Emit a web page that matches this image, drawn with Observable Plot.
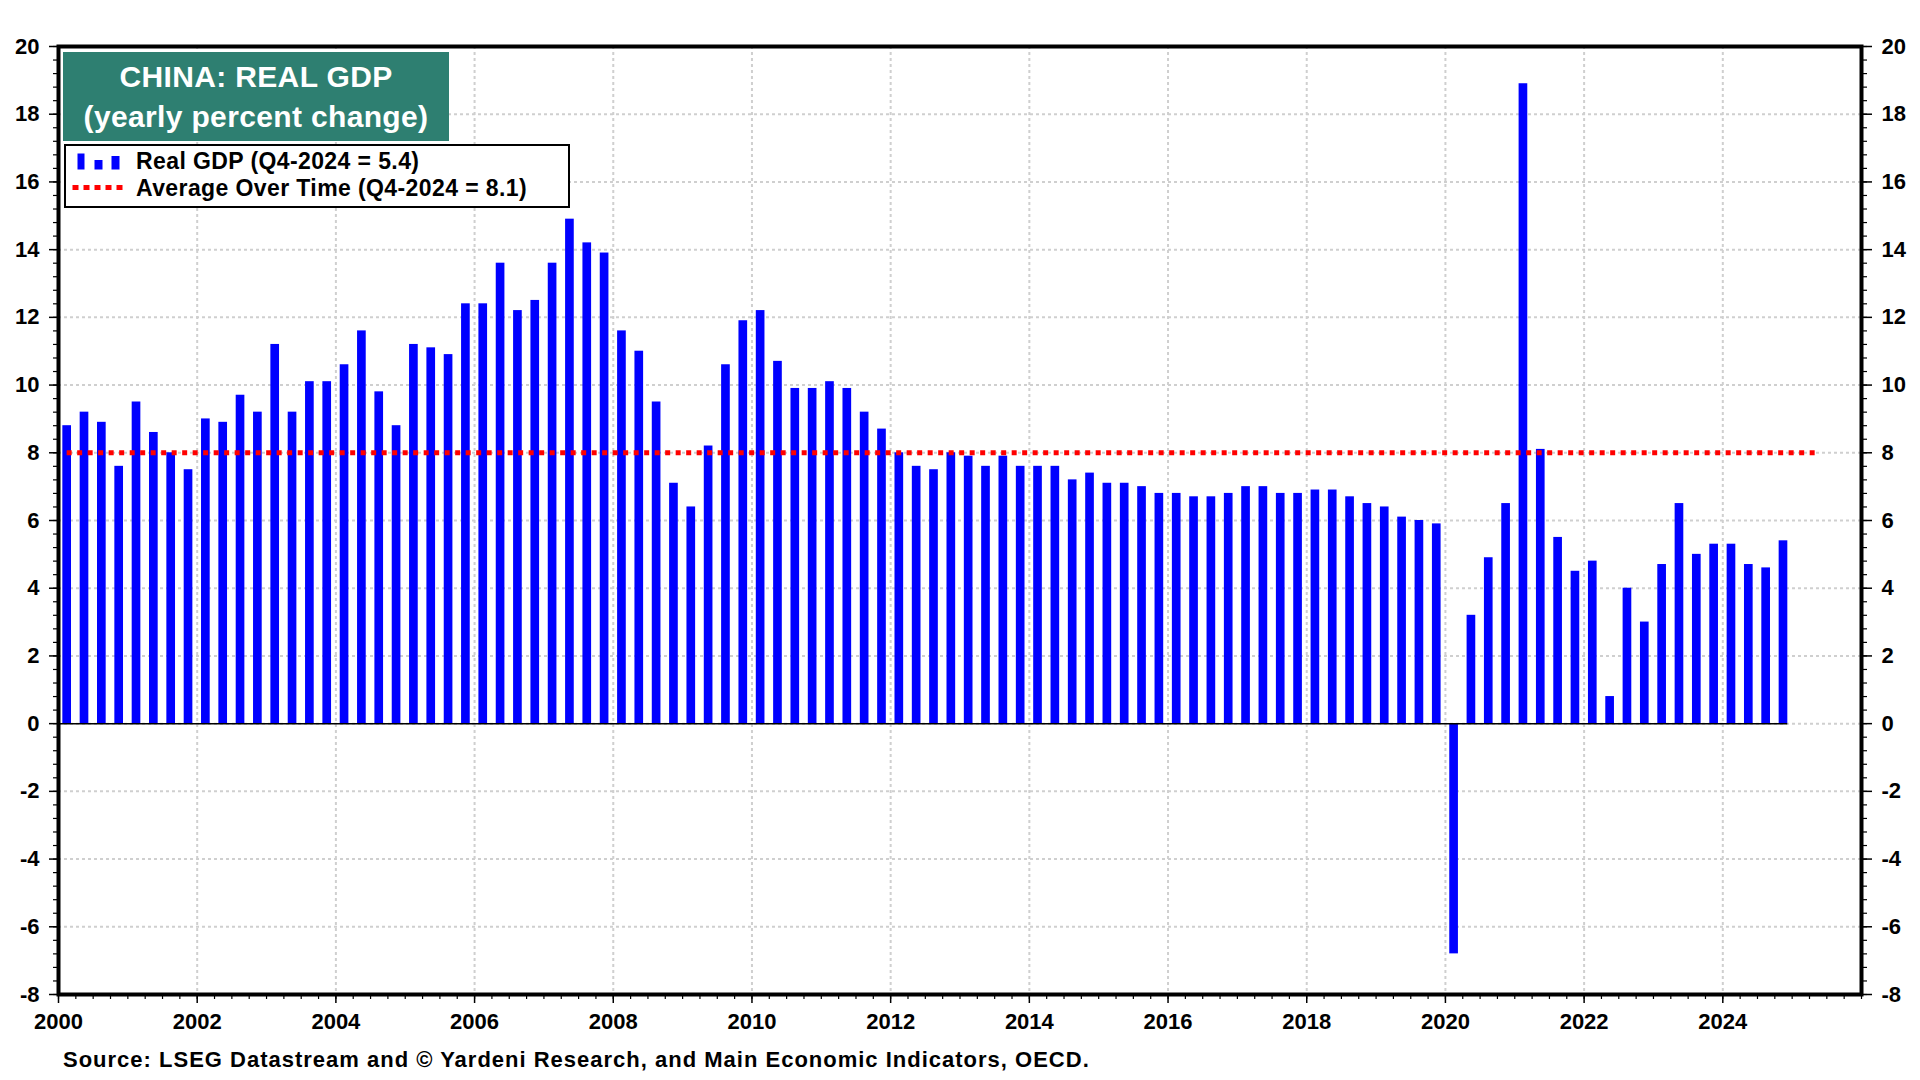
<!DOCTYPE html>
<html>
<head>
<meta charset="utf-8">
<script src="https://cdn.jsdelivr.net/npm/d3@7"></script>
<script src="https://cdn.jsdelivr.net/npm/@observablehq/plot@0.6"></script>
<style>
  html, body { margin: 0; padding: 0; background: #fff; }
  #wrap { position: relative; width: 1920px; height: 1080px; overflow: hidden;
          font-family: "Liberation Sans", Arial, Helvetica, sans-serif; font-weight: bold; color: #000; }
  #chart { position: absolute; left: 0; top: 0; }
  #title { position: absolute; left: 63px; top: 52px; width: 386px; height: 89px;
           background: #2e7f71; color: #fff; font-size: 30px; line-height: 40px; text-align: center;
           letter-spacing: 0.35px;
           display: flex; flex-direction: column; justify-content: center; }
  #legend { position: absolute; left: 64px; top: 144px; width: 502px; height: 60px;
            border: 2.5px solid #000; background: #fff; font-size: 23px; letter-spacing: 0.4px; }
  #legend svg { position: absolute; left: 0; top: 0; }
  #legend .row { position: absolute; left: 70px; height: 26px; line-height: 26px; white-space: nowrap; }
  #caption { position: absolute; left: 63px; top: 1047px; font-size: 22px; line-height: 26px;
             letter-spacing: 1px; white-space: nowrap; }
</style>
</head>
<body>
<div id="wrap">
  <div id="chart"></div>
  <div id="title"><div id="t1"></div><div id="t2"></div></div>
  <div id="legend">
    <svg width="502" height="60">
      <rect x="11.5" y="7.5" width="7" height="16" fill="#0000ff"></rect>
      <rect x="28.5" y="14" width="8" height="9.5" fill="#0000ff"></rect>
      <rect x="45.5" y="10" width="8" height="13.5" fill="#0000ff"></rect>
      <line x1="6.5" x2="60" y1="41.5" y2="41.5" stroke="#ff0000" stroke-width="5" stroke-dasharray="6,5"></line>
    </svg>
    <div class="row" id="leg1" style="top:2px"></div>
    <div class="row" id="leg2" style="top:28.5px"></div>
  </div>
  <div id="caption"></div>
</div>
<script>
// ---- Data ----
const years = [2000, 2001, 2002, 2003, 2004, 2005, 2006, 2007, 2008, 2009,
               2010, 2011, 2012, 2013, 2014, 2015, 2016, 2017, 2018, 2019,
               2020, 2021, 2022, 2023, 2024];
const quarters = ["Q1", "Q2", "Q3", "Q4"];
// Real GDP, yearly percent change, quarterly (Q1..Q4 for each year)
const realGdp = [
   8.8,  9.2,  8.9,  7.6,   // 2000
   9.5,  8.6,  8.0,  7.5,   // 2001
   9.0,  8.9,  9.7,  9.2,   // 2002
  11.2,  9.2, 10.1, 10.1,   // 2003
  10.6, 11.6,  9.8,  8.8,   // 2004
  11.2, 11.1, 10.9, 12.4,   // 2005
  12.4, 13.6, 12.2, 12.5,   // 2006
  13.6, 14.9, 14.2, 13.9,   // 2007
  11.6, 11.0,  9.5,  7.1,   // 2008
   6.4,  8.2, 10.6, 11.9,   // 2009
  12.2, 10.7,  9.9,  9.9,   // 2010
  10.1,  9.9,  9.2,  8.7,   // 2011
   8.0,  7.6,  7.5,  8.0,   // 2012
   7.9,  7.6,  7.9,  7.6,   // 2013
   7.6,  7.6,  7.2,  7.4,   // 2014
   7.1,  7.1,  7.0,  6.8,   // 2015
   6.8,  6.7,  6.7,  6.8,   // 2016
   7.0,  7.0,  6.8,  6.8,   // 2017
   6.9,  6.9,  6.7,  6.5,   // 2018
   6.4,  6.1,  6.0,  5.9,   // 2019
  -6.8,  3.2,  4.9,  6.5,   // 2020
  18.9,  8.1,  5.5,  4.5,   // 2021
   4.8,  0.8,  4.0,  3.0,   // 2022
   4.7,  6.5,  5.0,  5.3,   // 2023
   5.3,  4.7,  4.6,  5.4    // 2024
];
const averageLevel = 8.0;                 // drawn level of "Average Over Time"
const averageSpan = [[2000, "Q1"], [2025, "Q2"]];
const yMajorTicks = [-8, -6, -4, -2, 0, 2, 4, 6, 8, 10, 12, 14, 16, 18, 20];
const yGridTicks = [-6, -4, -2, 0, 2, 4, 6, 8, 10, 12, 14, 16, 18];
const xLabelTicks = [2000, 2002, 2004, 2006, 2008, 2010, 2012, 2014, 2016, 2018, 2020, 2022, 2024];
const xGridTicks = [2002, 2004, 2006, 2008, 2010, 2012, 2014, 2016, 2018, 2020, 2022, 2024];
const titleLines = ["CHINA: REAL GDP", "(yearly percent change)"];
const legendLabels = ["Real GDP (Q4-2024 = 5.4)", "Average Over Time (Q4-2024 = 8.1)"];
const sourceText = "Source: LSEG Datastream and © Yardeni Research, and Main Economic Indicators, OECD.";

// ---- Build table ----
const qMid = (year, q) => year + quarters.indexOf(q) * 0.25 + 0.125;
const table = realGdp.map((v, i) => ({
  year: years[Math.floor(i / 4)], q: quarters[i % 4],
  t: qMid(years[Math.floor(i / 4)], quarters[i % 4]), value: v
}));
const halfBar = 0.0625;
const lastT = table[table.length - 1].t;
const avgRow = [{level: averageLevel,
                 from: qMid(averageSpan[0][0], averageSpan[0][1]),
                 to: qMid(averageSpan[1][0], averageSpan[1][1])}];
const yMinor = d3.range(-8, 20.001, 0.4).map(d => +d.toFixed(1));
const xMinor = d3.range(2000, 2026.001, 0.25);

document.getElementById("t1").textContent = titleLines[0];
document.getElementById("t2").textContent = titleLines[1];
document.getElementById("leg1").textContent = legendLabels[0];
document.getElementById("leg2").textContent = legendLabels[1];
document.getElementById("caption").textContent = sourceText;

const gridStyle = {stroke: "#cfcfcf", strokeOpacity: 1, strokeWidth: 2, strokeDasharray: "3,3"};

const chart = Plot.plot({
  width: 1920,
  height: 1040,
  marginLeft: 58,
  marginRight: 59,
  marginTop: 46,
  marginBottom: 46,
  x: {type: "linear", domain: [2000, 2026], axis: null},
  y: {type: "linear", domain: [-8, 20], axis: null},
  style: {fontFamily: '"Liberation Sans", Arial, Helvetica, sans-serif', fontSize: "22px",
          fontWeight: "bold", color: "#000", background: "transparent", overflow: "visible"},
  marks: [
    Plot.gridY(yGridTicks, gridStyle),
    Plot.gridX(xGridTicks, gridStyle),
    Plot.rectY(table, {x1: d => d.t - halfBar, x2: d => d.t + halfBar, y: "value", fill: "#0000ff"}),
    Plot.ruleY([0], {x1: () => 2000, x2: () => lastT + halfBar, stroke: "#000", strokeWidth: 1.5}),
    Plot.ruleY(avgRow, {y: "level", x1: "from", x2: "to", stroke: "#ff0000", strokeWidth: 5, strokeDasharray: "5,5.5"}),
    Plot.frame({stroke: "#000", strokeWidth: 4}),
    Plot.axisY(yMinor, {anchor: "left", tickSize: 5, tickFormat: () => "", label: null, strokeWidth: 1.2}),
    Plot.axisY(yMajorTicks, {anchor: "left", tickSize: 9, tickPadding: 10, tickFormat: d => String(d), label: null, strokeWidth: 1.5}),
    Plot.axisY(yMinor, {anchor: "right", tickSize: 5, tickFormat: () => "", label: null, strokeWidth: 1.2}),
    Plot.axisY(yMajorTicks, {anchor: "right", tickSize: 10, tickPadding: 10, tickFormat: d => String(d), label: null, strokeWidth: 1.5}),
    Plot.axisX(xMinor, {anchor: "bottom", tickSize: 5, tickFormat: () => "", label: null, strokeWidth: 1.2}),
    Plot.axisX(xLabelTicks, {anchor: "bottom", tickSize: 9, tickPadding: 10, tickFormat: d => String(d), label: null, strokeWidth: 1.5})
  ]
});
document.getElementById("chart").appendChild(chart);
</script>
</body>
</html>
